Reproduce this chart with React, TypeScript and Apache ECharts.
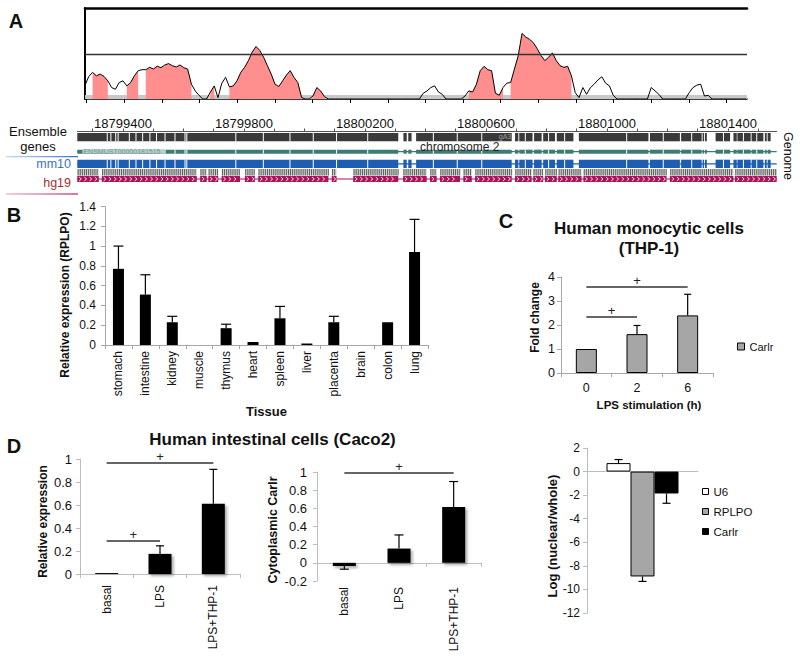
import { useEffect, useRef } from 'react';
import * as echarts from 'echarts';

const FONT = '"Liberation Sans", Arial, Helvetica, sans-serif';

// ---------- Panel A: conservation profile (index along region, score 0-100) ----------
const conservationScore = [
  15, 24.8, 29.3, 25.5, 27.4, 24.8, 20, 12.6, 10.7, 18.1,
  20, 14.4, 18.1, 25.5, 31.1, 32.2, 32.2, 34.8, 33, 36,
  34.4, 37.4, 38.9, 36.6, 35.2, 37.4, 34.4, 33, 16.3, 8.9,
  4.1, 0, 0, 7.7, 14.4, 1.5, 17.4, 23.7, 13.3, 14.4,
  20, 29.3, 34.8, 42.2, 51.5, 57.7, 53.3, 45.9, 36.6, 27.4,
  16.3, 13.7, 20, 26.3, 31.1, 23.7, 18.1, 1.5, 0, 0,
  3.3, 12.6, 8.9, 2.6, 0, 0, 0, 0, 0, 0,
  0, 0, 0, 0, 0, 0, 0, 0, 0, 0,
  0, 0, 0, 0, 0, 0, 0, 0, 0, 6.3,
  8.9, 12.6, 14.4, 7.7, 5.2, 0, 0, 0, 0, 0,
  3.3, 8.9, 7.7, 16.3, 31.1, 35.9, 32.2, 31.1, 6.3, 4.1,
  12.6, 17.4, 18.1, 32.9, 47.7, 72, 68.1, 65.5, 61.8, 55.2,
  47.7, 42.2, 45.9, 50.7, 42.2, 36.6, 34.8, 35.9, 25.5, 7,
  1.5, 12.6, 5.2, 12.6, 16.3, 21.1, 24.4, 17.4, 14.4, 4.1,
  0, 0, 0, 0, 0, 0, 0, 0, 0, 12.6,
  8.9, 5.2, 0, 0, 0, 0, 0, 0, 0, 7,
  12.6, 15.2, 16.3, 3.3, 4, 0, 0, 0, 0, 0,
  0, 0, 0, 0, 0,
];
const conservedRegions = [
  [2, 6], [11, 14], [16, 28], [33, 34], [38, 50], [51, 57], [60, 63], [101, 108], [109, 110], [112, 128],
];
const conservationThreshold = 49;
const profileTicks = [0.45, 10.36, 20.27, 30.18, 40.09, 50, 59.9, 69.8, 79.7, 89.6, 99.5, 109.4, 119.3, 129.2, 139.1, 149, 158.9, 168.8];

// ---------- Panel A: genome browser ----------
const genomeStart = 18799249;
const genomeEnd = 18801561;
const coordinateLabels = [18799400, 18799800, 18800200, 18800600, 18801000, 18801400];
const rulerTicks = [
  18799300, 18799400, 18799500, 18799600, 18799700, 18799800, 18799900, 18800000, 18800100, 18800200,
  18800300, 18800400, 18800500, 18800600, 18800700, 18800800, 18800900, 18801000, 18801100, 18801200,
  18801300, 18801400, 18801500,
];
const ensemblBlocks = [
  [18799249, 18800310], [18800327, 18800338], [18800343, 18800354], [18800369, 18800685],
  [18800696, 18800707], [18800710, 18800754], [18800759, 18800784], [18800789, 18800828],
  [18800834, 18800889], [18800907, 18801137], [18801142, 18801241], [18801245, 18801313],
  [18801316, 18801321], [18801324, 18801330], [18801359, 18801407], [18801418, 18801429],
  [18801431, 18801475], [18801478, 18801517], [18801522, 18801528], [18801531, 18801541],
];
const exonBreaks = [
  18799348, 18799360, 18799376, 18799384, 18799421, 18799443, 18799465, 18799489, 18799511, 18799539,
  18799572, 18799605, 18799611, 18799773, 18799864, 18799952, 18800029, 18800106, 18800209, 18800426,
  18800505, 18800586, 18800730, 18800807, 18800860, 18801065, 18801186, 18801280, 18801385, 18801451,
  18801495,
];
const hg19Blocks = [
  [18799249, 18799320], [18799330, 18799644], [18799655, 18799677], [18799682, 18799715],
  [18799726, 18799787], [18799803, 18799836], [18799847, 18800079], [18800090, 18800106],
  [18800161, 18800310], [18800326, 18800404], [18800415, 18800437], [18800448, 18800514],
  [18800525, 18800553], [18800564, 18800685], [18800696, 18800751], [18800756, 18800789],
  [18800795, 18800834], [18800839, 18800916], [18800922, 18801197], [18801208, 18801418],
  [18801423, 18801561],
];
const transcriptSpan = [18799266, 18799539];
const transcriptId = 'ENSMUST00000181515';

// ---------- Panel B ----------
const tissues = ['stomach', 'intestine', 'kidney', 'muscle', 'thymus', 'heart', 'spleen', 'liver', 'placenta', 'brain', 'colon', 'lung'];
const tissueExpression = [0.77, 0.51, 0.23, 0, 0.17, 0.03, 0.27, 0.015, 0.23, 0, 0.23, 0.94];
const tissueError = [0.23, 0.2, 0.06, 0, 0.04, 0, 0.12, 0, 0.06, 0, 0, 0.33];

// ---------- Panel C ----------
const lpsHours = ['0', '2', '6'];
const thp1Fold = [1, 1.62, 2.4];
const thp1Error = [0, 0.36, 0.88];
const thp1Significance = [
  { from: '0', to: '6', level: 3.58 },
  { from: '0', to: '2', level: 2.33 },
];

// ---------- Panel D ----------
const caco2Conditions = ['basal', 'LPS', 'LPS+THP-1'];
const caco2Expression = [0.008, 0.175, 0.61];
const caco2ExpressionError = [0, 0.07, 0.3];
const caco2ExpressionSignificance = [
  { from: 'basal', to: 'LPS+THP-1', level: 0.965 },
  { from: 'basal', to: 'LPS', level: 0.287 },
];
const caco2Cytoplasmic = [-0.035, 0.157, 0.615];
const caco2CytoplasmicError = [0.035, 0.15, 0.28];
const caco2CytoplasmicSignificance = [{ from: 'basal', to: 'LPS+THP-1', level: 0.99 }];
const fractionRNAs = ['U6', 'RPLPO', 'Carlr'];
const fractionLog = [0.72, -8.9, -1.86];
const fractionError = [0.3, 0.42, 0.83];

// ---------- rendering helpers ----------
const TRACK_ROWS = [
  { top: 2, bottom: 10.3, kind: 'solid', fill: '#3a3a3a' },
  { top: 18.7, bottom: 22.7, kind: 'solid', fill: '#3e7b74' },
  { top: 28.7, bottom: 37, kind: 'solid', fill: '#1d5db4' },
  { top: 38, bottom: 44.6, kind: 'barcode', fill: '#cfcfcf' },
  { top: 45, bottom: 51, kind: 'chevron', fill: '#ae125a' },
];

function renderTrackBlock(_p: any, api: any) {
  const s = api.value(0), e = api.value(1);
  const row = TRACK_ROWS[api.value(2)];
  const p0 = api.coord([s, row.top]);
  const p1 = api.coord([e, row.bottom]);
  const x = p0[0], y = p0[1];
  const w = Math.max(p1[0] - p0[0], 0.8), h = p1[1] - p0[1];
  const children: any[] = [{ type: 'rect', shape: { x, y, width: w, height: h }, style: { fill: row.fill } }];
  if (row.kind === 'barcode') {
    for (let xx = x + 0.4; xx < x + w - 0.4; xx += 2.1) {
      children.push({ type: 'rect', shape: { x: xx, y, width: 0.9, height: h }, style: { fill: '#555' } });
    }
  }
  if (row.kind === 'chevron') {
    const cy = y + h / 2;
    for (let xx = x + 3; xx < x + w - 1.5; xx += 5.2) {
      children.push({
        type: 'polyline',
        shape: { points: [[xx - 1.2, cy - 2], [xx + 1, cy], [xx - 1.2, cy + 2]] },
        style: { stroke: '#fff', lineWidth: 0.9, fill: 'none' },
      });
    }
  }
  return { type: 'group', children };
}

function renderTrackLine(_p: any, api: any) {
  const row = TRACK_ROWS[api.value(2)];
  const mid = (row.top + row.bottom) / 2;
  const p0 = api.coord([api.value(0), mid]);
  const p1 = api.coord([api.value(1), mid]);
  return { type: 'rect', shape: { x: p0[0], y: p0[1] - 0.6, width: p1[0] - p0[0], height: 1.2 }, style: { fill: row.fill } };
}

function renderExonBreak(_p: any, api: any) {
  const b = api.value(0);
  const children: any[] = [];
  for (let r = 0; r < 3; r++) {
    const row = TRACK_ROWS[r];
    const p0 = api.coord([b, row.top]);
    const p1 = api.coord([b, row.bottom]);
    children.push({ type: 'rect', shape: { x: p0[0] - 0.5, y: p0[1], width: 1, height: p1[1] - p0[1] }, style: { fill: '#fff' } });
  }
  return { type: 'group', children };
}

function renderTranscriptLabel(_p: any, api: any) {
  const row = TRACK_ROWS[1];
  const p0 = api.coord([api.value(0), row.top]);
  const p1 = api.coord([api.value(1), row.bottom]);
  return {
    type: 'group',
    children: [
      { type: 'rect', shape: { x: p0[0], y: p0[1], width: p1[0] - p0[0], height: p1[1] - p0[1] }, style: { fill: '#b9cfcb' } },
      {
        type: 'text', x: p0[0] + 1, y: (p0[1] + p1[1]) / 2,
        style: { text: transcriptId, fill: '#6a948f', fontSize: 7, fontFamily: FONT, align: 'left', verticalAlign: 'middle' },
      },
    ],
  };
}

function errorBars(xAxisIndex: number, yAxisIndex: number, data: number[][], cap: number, slotWidth = 0) {
  return {
    type: 'custom',
    xAxisIndex,
    yAxisIndex,
    silent: true,
    z: 4,
    encode: { x: 0, y: 1 },
    data,
    renderItem: (_p: any, api: any) => {
      const cat = api.value(0), v = api.value(1), e = api.value(2);
      const slot = data[_p.dataIndex][3];
      if (!e) return null;
      const base = api.coord([cat, v]);
      const tip = api.coord([cat, v >= 0 ? v + e : v - e]);
      const x = base[0] + (slot === undefined ? 0 : (slot - 1) * slotWidth);
      const st = { stroke: '#000', lineWidth: 1.2 };
      return {
        type: 'group',
        children: [
          { type: 'line', shape: { x1: x, y1: base[1], x2: x, y2: tip[1] }, style: st },
          { type: 'line', shape: { x1: x - cap / 2, y1: tip[1], x2: x + cap / 2, y2: tip[1] }, style: st },
        ],
      };
    },
  };
}

// significance bracket: horizontal line between two categories with a "+" above its middle
function significance(xAxisIndex: number, yAxisIndex: number, cats: string[], sig: { from: string; to: string; level: number }[]) {
  const data = sig.map((s) => [cats.indexOf(s.from), s.level, cats.indexOf(s.to)]);
  return {
    type: 'custom',
    xAxisIndex,
    yAxisIndex,
    silent: true,
    clip: false,
    z: 5,
    encode: { x: [0, 2], y: 1 },
    data,
    renderItem: (_p: any, api: any) => {
      const a = api.coord([api.value(0), api.value(1)]);
      const b = api.coord([api.value(2), api.value(1)]);
      return {
        type: 'group',
        children: [
          { type: 'line', shape: { x1: a[0], y1: a[1], x2: b[0], y2: b[1] }, style: { stroke: '#333', lineWidth: 1.5 } },
          {
            type: 'text', x: (a[0] + b[0]) / 2, y: a[1] - 6.5,
            style: { text: '+', fill: '#222', fontSize: 13, fontFamily: FONT, align: 'center', verticalAlign: 'middle' },
          },
        ],
      };
    },
  };
}

const grayAxis = (color = '#a6a6a6') => ({
  axisLine: { show: true, onZero: true, lineStyle: { color, width: 1 } },
  axisTick: { show: true, length: 4, lineStyle: { color } },
  splitLine: { show: false },
});

const valueY = (gridIndex: number, min: number, max: number, interval: number, fontSize: number, margin: number, color = '#a6a6a6') => ({
  gridIndex,
  type: 'value',
  min,
  max,
  interval,
  axisLine: { show: true, onZero: false, lineStyle: { color, width: 1 } },
  axisTick: { show: true, length: 4, lineStyle: { color } },
  axisLabel: { fontSize, margin, color: '#111', fontFamily: FONT },
  splitLine: { show: false },
});

function txt(text: string, x: number, y: number, size: number, o: any = {}) {
  return {
    type: 'text',
    x,
    y,
    rotation: o.rotation || 0,
    z: 100,
    silent: true,
    style: {
      text,
      fill: o.color || '#111',
      fontSize: size,
      fontWeight: o.bold ? 'bold' : 'normal',
      fontFamily: FONT,
      align: o.align || 'center',
      verticalAlign: 'middle',
    },
  };
}

export default function App() {
  const ref = useRef<HTMLDivElement>(null);

  useEffect(() => {
    if (!ref.current) return;
    const chart = echarts.init(ref.current, undefined, { renderer: 'svg' });

    const inRegion = (i: number) => conservedRegions.some(([a, b]) => i >= a && i <= b);
    const profileData = conservationScore.map((v, i) => [i, v]);
    const conservedData = conservationScore.map((v, i) => (inRegion(i) ? [i, v] : [i, '-']));

    const blockData: number[][] = [];
    ensemblBlocks.forEach(([s, e]) => { blockData.push([s, e, 0], [s, e, 1], [s, e, 2]); });
    hg19Blocks.forEach(([s, e]) => { blockData.push([s, e, 3], [s, e, 4]); });

    const rot = Math.PI / 2;

    const option: any = {
      animation: false,
      textStyle: { fontFamily: FONT },
      grid: [
        { left: 85, top: 8, width: 662, height: 91 },
        { left: 77.3, top: 131, width: 699.4, height: 52 },
        { left: 105, top: 206.5, width: 323, height: 138.5 },
        { left: 561, top: 277, width: 152, height: 96 },
        { left: 80, top: 459, width: 160, height: 115 },
        { left: 317, top: 472, width: 164, height: 109 },
        { left: 587, top: 448, width: 111, height: 165 },
      ],
      xAxis: [
        {
          gridIndex: 0, type: 'value', position: 'bottom', min: 0, max: 174.2,
          axisLine: { show: true, onZero: false, lineStyle: { color: '#000', width: 1.6 } },
          axisTick: { show: true, customValues: profileTicks, length: 4, lineStyle: { color: '#000', width: 1 } },
          axisLabel: { show: false }, splitLine: { show: false },
        },
        {
          gridIndex: 0, type: 'value', position: 'top', min: 0, max: 174.2,
          axisLine: { show: true, onZero: false, lineStyle: { color: '#000', width: 2.5 } },
          axisTick: { show: false }, axisLabel: { show: false }, splitLine: { show: false },
        },
        {
          gridIndex: 1, type: 'value', position: 'top', min: genomeStart, max: genomeEnd,
          axisLine: { show: true, onZero: false, lineStyle: { color: '#555', width: 1 } },
          axisTick: { show: true, customValues: rulerTicks, length: 2.5, lineStyle: { color: '#555' } },
          axisLabel: { customValues: coordinateLabels, formatter: (v: number) => String(v), fontSize: 13, color: '#111', margin: 1 },
          splitLine: { show: false },
        },
        {
          gridIndex: 2, type: 'category', position: 'bottom', data: tissues, ...grayAxis(),
          axisLabel: { rotate: 90, fontSize: 12, color: '#111', margin: 6, fontFamily: FONT },
        },
        {
          gridIndex: 3, type: 'category', position: 'bottom', data: lpsHours, ...grayAxis(),
          axisLabel: { fontSize: 12.5, color: '#111', margin: 8, fontFamily: FONT },
        },
        {
          gridIndex: 4, type: 'category', position: 'bottom', data: caco2Conditions, ...grayAxis('#bdbdbd'),
          axisLabel: { rotate: 90, fontSize: 12, color: '#111', margin: 11, fontFamily: FONT },
        },
        {
          gridIndex: 5, type: 'category', position: 'bottom', data: caco2Conditions, ...grayAxis('#bdbdbd'),
          axisLabel: { show: false },
        },
        {
          gridIndex: 5, type: 'category', position: 'bottom', data: caco2Conditions,
          axisLine: { show: false, onZero: false }, axisTick: { show: false }, splitLine: { show: false },
          axisLabel: { rotate: 90, fontSize: 12, color: '#111', margin: 6, fontFamily: FONT },
        },
        {
          gridIndex: 6, type: 'category', position: 'bottom', data: ['fraction'],
          axisLine: { show: true, onZero: true, lineStyle: { color: '#bdbdbd' } },
          axisTick: { show: false }, axisLabel: { show: false }, splitLine: { show: false },
        },
      ],
      yAxis: [
        {
          gridIndex: 0, type: 'value', min: 0, max: 100,
          axisLine: { show: true, onZero: false, lineStyle: { color: '#000', width: 2 } },
          axisTick: { show: false }, axisLabel: { show: false }, splitLine: { show: false },
        },
        { gridIndex: 1, type: 'value', min: 0, max: 52, inverse: true, show: false },
        valueY(2, 0, 1.4, 0.2, 12, 9),
        valueY(3, 0, 4, 1, 12.5, 6),
        valueY(4, 0, 1, 0.2, 13, 8, '#bdbdbd'),
        valueY(5, -0.2, 1, 0.2, 13, 10, '#bdbdbd'),
        valueY(6, -12, 2, 2, 12, 7, '#bdbdbd'),
      ],
      legend: [
        {
          data: [{ name: 'Carlr', itemStyle: { color: '#a6a6a6', borderColor: '#000', borderWidth: 1 } }],
          left: 737, top: 341, orient: 'vertical', padding: 0, itemWidth: 7, itemHeight: 7,
          icon: 'rect', selectedMode: false, textStyle: { fontSize: 11, color: '#111', fontFamily: FONT },
        },
        {
          data: [
            { name: 'U6', itemStyle: { color: '#fff', borderColor: '#000', borderWidth: 1 } },
            { name: 'RPLPO', itemStyle: { color: '#a6a6a6', borderColor: '#000', borderWidth: 1 } },
            { name: 'Carlr', itemStyle: { color: '#000', borderColor: '#000', borderWidth: 1 } },
          ],
          left: 702, top: 485, orient: 'vertical', padding: 0, itemWidth: 6, itemHeight: 6, itemGap: 7,
          icon: 'rect', selectedMode: false, textStyle: { fontSize: 11.5, lineHeight: 13, color: '#111', fontFamily: FONT },
        },
      ],
      series: [
        // Panel A profile
        {
          type: 'line', xAxisIndex: 0, yAxisIndex: 0, data: conservedData, symbol: 'none', silent: true, z: 2,
          lineStyle: { width: 0, opacity: 0 }, areaStyle: { color: '#ff8e8e', opacity: 1 },
        },
        {
          type: 'line', xAxisIndex: 0, yAxisIndex: 0, data: profileData, symbol: 'none', silent: true, z: 3,
          lineStyle: { color: '#000', width: 1 },
          markLine: {
            silent: true, symbol: ['none', 'none'], label: { show: false },
            lineStyle: { color: '#333', width: 1.3, type: 'solid' },
            data: [{ yAxis: conservationThreshold }],
          },
          markArea: {
            silent: true, itemStyle: { color: '#c8c8c8' },
            data: [[{ yAxis: 0 }, { yAxis: 4.5 }]],
          },
        },
        // Genome tracks
        {
          type: 'custom', xAxisIndex: 2, yAxisIndex: 1, silent: true, clip: false, z: 2,
          encode: { x: [0, 1], y: 2 },
          data: [[genomeStart, genomeEnd, 1], [genomeStart, genomeEnd, 2], [genomeStart, genomeEnd, 4]],
          renderItem: renderTrackLine,
        },
        {
          type: 'custom', xAxisIndex: 2, yAxisIndex: 1, silent: true, clip: false, z: 3,
          encode: { x: [0, 1], y: 2 }, data: blockData, renderItem: renderTrackBlock,
        },
        {
          type: 'custom', xAxisIndex: 2, yAxisIndex: 1, silent: true, clip: false, z: 4,
          encode: { x: 0, y: 1 }, data: exonBreaks.map((b) => [b, 0]), renderItem: renderExonBreak,
        },
        {
          type: 'custom', xAxisIndex: 2, yAxisIndex: 1, silent: true, clip: false, z: 5,
          encode: { x: [0, 1], y: 2 }, data: [[transcriptSpan[0], transcriptSpan[1], 1]], renderItem: renderTranscriptLabel,
        },
        // Panel B
        {
          type: 'bar', xAxisIndex: 3, yAxisIndex: 2, data: tissueExpression, barWidth: 11, silent: true,
          itemStyle: { color: '#000' },
        },
        errorBars(3, 2, tissueExpression.map((v, i) => [i, v, tissueError[i]]), 10),
        // Panel C
        {
          name: 'Carlr', type: 'bar', xAxisIndex: 4, yAxisIndex: 3, data: thp1Fold, barWidth: 21, silent: true,
          itemStyle: { color: '#a6a6a6', borderColor: '#000', borderWidth: 1 },
        },
        errorBars(4, 3, thp1Fold.map((v, i) => [i, v, thp1Error[i]]), 7),
        significance(4, 3, lpsHours, thp1Significance),
        // Panel D left
        {
          type: 'bar', xAxisIndex: 5, yAxisIndex: 4, data: caco2Expression, barWidth: 23, silent: true,
          itemStyle: { color: '#000', shadowColor: 'rgba(0,0,0,0.35)', shadowBlur: 3, shadowOffsetX: 2, shadowOffsetY: 2 },
        },
        errorBars(5, 4, caco2Expression.map((v, i) => [i, v, caco2ExpressionError[i]]), 8),
        significance(5, 4, caco2Conditions, caco2ExpressionSignificance),
        // Panel D middle
        {
          type: 'bar', xAxisIndex: 6, yAxisIndex: 5, data: caco2Cytoplasmic, barWidth: 23, silent: true,
          itemStyle: { color: '#000', shadowColor: 'rgba(0,0,0,0.35)', shadowBlur: 3, shadowOffsetX: 2, shadowOffsetY: 2 },
        },
        errorBars(6, 5, caco2Cytoplasmic.map((v, i) => [i, v, caco2CytoplasmicError[i]]), 9),
        significance(6, 5, caco2Conditions, caco2CytoplasmicSignificance),
        // Panel D right
        {
          name: fractionRNAs[0], type: 'bar', xAxisIndex: 8, yAxisIndex: 6, data: [fractionLog[0]], barWidth: 24, barGap: '0%', silent: true,
          itemStyle: { color: '#fff', borderColor: '#000', borderWidth: 1 },
        },
        {
          name: fractionRNAs[1], type: 'bar', xAxisIndex: 8, yAxisIndex: 6, data: [fractionLog[1]], barWidth: 24, barGap: '0%', silent: true,
          itemStyle: { color: '#a6a6a6', borderColor: '#000', borderWidth: 1 },
        },
        {
          name: fractionRNAs[2], type: 'bar', xAxisIndex: 8, yAxisIndex: 6, data: [fractionLog[2]], barWidth: 24, barGap: '0%', silent: true,
          itemStyle: { color: '#000', borderColor: '#000', borderWidth: 1 },
        },
        errorBars(8, 6, fractionLog.map((v, i) => [0, v, fractionError[i], i]), 8, 24),
      ],
      graphic: [
        txt('A', 16, 21, 20, { bold: true }),
        txt('B', 14, 215, 20, { bold: true }),
        txt('C', 506, 221, 20, { bold: true }),
        txt('D', 14, 446, 20, { bold: true }),
        txt('Ensemble', 38, 131, 13),
        txt('genes', 38, 146, 13),
        txt('mm10', 71, 164, 12.5, { align: 'right', color: '#3b6fd6' }),
        txt('hg19', 71, 183, 12.5, { align: 'right', color: '#a3302f' }),
        {
          type: 'line', z: 100, silent: true,
          shape: { x1: 6, y1: 156.7, x2: 78, y2: 156.7 },
          style: {
            lineWidth: 1.3,
            stroke: new echarts.graphic.LinearGradient(6, 0, 78, 0, [
              { offset: 0, color: 'rgba(90,140,215,0.35)' },
              { offset: 1, color: '#2f6fd0' },
            ], true),
          },
        },
        {
          type: 'line', z: 100, silent: true,
          shape: { x1: 6, y1: 194, x2: 78, y2: 194 },
          style: {
            lineWidth: 1.3,
            stroke: new echarts.graphic.LinearGradient(6, 0, 78, 0, [
              { offset: 0, color: 'rgba(215,90,130,0.4)' },
              { offset: 1, color: '#d0457a' },
            ], true),
          },
        },
        txt('chromosome 2', 420, 146.5, 12, { align: 'left', color: '#222' }),
        txt('gA3', 505, 136.5, 7, { color: '#9a9a9a' }),
        txt('Genome', 787.5, 156, 12.5, { rotation: -rot }),
        txt('Relative expression (RPLPO)', 65, 295, 12, { bold: true, rotation: rot }),
        txt('Tissue', 266.5, 411.5, 13, { bold: true }),
        txt('Human monocytic cells', 649, 228, 17, { bold: true }),
        txt('(THP-1)', 649, 248.5, 17, { bold: true }),
        txt('Fold change', 535, 317.5, 12, { bold: true, rotation: rot }),
        txt('LPS stimulation (h)', 649, 405, 11.5, { bold: true }),
        txt('Human intestinal cells (Caco2)', 272.5, 439, 17, { bold: true }),
        txt('Relative expression', 42.7, 521.5, 12, { bold: true, rotation: rot }),
        txt('Cytoplasmic Carlr', 273, 530, 12.5, { bold: true, rotation: rot }),
        txt('Log (nuclear/whole)', 552, 536, 13, { bold: true, rotation: rot }),
      ],
    };

    chart.setOption(option);
    return () => chart.dispose();
  }, []);

  return (
    <div
      ref={ref}
      style={{ position: 'fixed', left: 0, top: 0, width: 800, height: 661, background: '#fff' }}
    />
  );
}
